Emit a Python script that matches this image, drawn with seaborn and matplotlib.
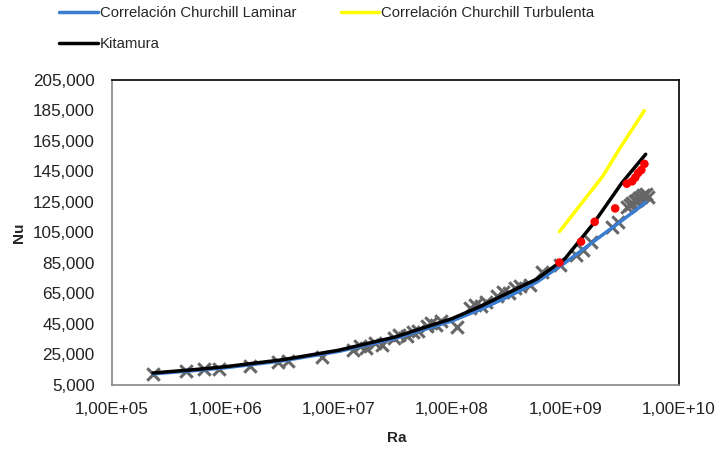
import matplotlib
matplotlib.use("Agg")
import matplotlib.pyplot as plt
import matplotlib.ticker as mticker
import numpy as np
import pandas as pd
import seaborn as sns

# experimental data (gray crosses)
ra_exp = [2.3e5, 4.5e5, 6.5e5, 8.8e5, 1.65e6, 2.9e6, 3.6e6, 7.1e6,
          1.35e7, 1.55e7, 1.75e7, 2.1e7, 2.4e7, 3.1e7, 3.4e7, 4.0e7, 4.5e7, 5.0e7,
          6.0e7, 6.6e7, 7.2e7, 8.0e7, 1.1e8, 1.45e8, 1.6e8, 1.8e8, 2.0e8, 2.5e8,
          2.8e8, 3.2e8, 3.6e8, 4.0e8, 4.9e8, 6.3e8, 9.0e8, 1.25e9, 1.45e9, 1.7e9,
          2.6e9, 2.9e9, 3.5e9, 3.7e9, 3.9e9, 4.1e9, 4.3e9, 4.5e9, 4.7e9, 4.9e9,
          5.2e9, 5.4e9]
nu_exp = [12.0, 14.0, 15.3, 15.5, 17.3, 19.8, 20.5, 23.3,
          28.0, 30.5, 29.0, 32.5, 31.5, 36.0, 37.5, 37.0, 39.5, 40.5,
          43.5, 45.5, 44.5, 47.0, 43.0, 55.5, 57.5, 56.5, 59.5, 63.5,
          66.0, 65.5, 68.5, 70.0, 70.5, 79.0, 84.0, 90.0, 93.5, 99.0,
          108.5, 112.0, 121.5, 123.0, 124.5, 125.5, 126.5, 127.5, 128.5, 129.5,
          130.5, 128.0]

# experimental data (red dots)
ra_red = [8.9e8, 1.38e9, 1.82e9, 2.76e9, 3.5e9, 3.9e9, 4.15e9, 4.4e9, 4.7e9, 5.0e9]
nu_red = [85.3, 99.0, 112.0, 120.8, 137.0, 138.6, 141.0, 144.0, 146.0, 150.0]

# correlations
ra_curve = [2.3e5, 5.0e5, 1.0e6, 3.16e6, 1.0e7, 3.16e7, 1.0e8, 1.78e8,
            3.16e8, 5.62e8, 1.0e9, 1.78e9, 3.16e9, 5.13e9]
nu_laminar = [12.3, 14.3, 16.3, 20.8, 27.0, 35.5, 47.0, 54.5,
              63.0, 72.5, 85.2, 99.1, 112.8, 124.7]
nu_kitamura = [12.9, 14.9, 17.0, 21.5, 27.8, 36.5, 48.5, 56.5,
               65.5, 74.5, 88.0, 111.0, 137.5, 156.3]
ra_turb = [8.9e8, 1.35e9, 2.14e9, 3.0e9, 5.0e9]
nu_turb = [105.6, 122.8, 141.8, 159.6, 185.0]

y_ticks = list(range(5, 206, 20))
x_ticks = [1e5, 1e6, 1e7, 1e8, 1e9, 1e10]

sns.set_style("white")
plt.rcParams['font.family'] = ['Liberation Sans', 'DejaVu Sans']

fig = plt.figure(figsize=(7.22, 4.5), dpi=100)
ax = fig.add_axes([112/722, 1-385/450, 566.5/722, 305/450])

sns.scatterplot(x=ra_exp, y=nu_exp, marker='x', s=80, color='#666666',
                linewidth=2.2, ax=ax, zorder=2, legend=False)
sns.lineplot(x=ra_curve, y=nu_laminar, color='#3a7dd0', lw=2.5, ax=ax,
             label='Correlación Churchill Laminar', zorder=3)
sns.lineplot(x=ra_turb, y=nu_turb, color='#ffff00', lw=2.5, ax=ax,
             label='Correlación Churchill Turbulenta', zorder=3)
sns.lineplot(x=ra_curve, y=nu_kitamura, color='black', lw=2.5, ax=ax,
             label='Kitamura', zorder=4)
sns.scatterplot(x=ra_red, y=nu_red, marker='o', s=38, color='#ff0000',
                edgecolor='none', ax=ax, zorder=5, legend=False)

ax.set_xscale('log')
ax.set_xlim(1e5, 1e10)
ax.set_ylim(5, 205)
ax.set_xticks(x_ticks)
ax.xaxis.set_minor_locator(mticker.NullLocator())
ax.xaxis.set_major_formatter(mticker.FuncFormatter(
    lambda v, p: ('%.2E' % v).replace('.', ',')))
ax.set_yticks(y_ticks)
ax.yaxis.set_major_formatter(mticker.FuncFormatter(
    lambda v, p: ('%.3f' % v).replace('.', ',')))

for s in ['left', 'bottom']:
    ax.spines[s].set_color('#868686')
    ax.spines[s].set_linewidth(1.2)
for s in ['top', 'right']:
    ax.spines[s].set_color('black')
    ax.spines[s].set_linewidth(1.2)
ax.tick_params(direction='out', length=4.5, width=1, color='#868686',
               labelsize=12.3, labelcolor='#222222', pad=8)

ax.set_xlabel('Ra', fontsize=11, fontweight='bold')
ax.set_ylabel('Nu', fontsize=11, fontweight='bold')
ax.xaxis.set_label_coords(0.503, -0.15)
ax.yaxis.set_label_coords(-0.152, 0.5)

handles, labels = ax.get_legend_handles_labels()
ax.get_legend().remove()
order = [0, 2, 1]
fig.legend([handles[i] for i in order], [labels[i] for i in order],
           loc='upper left', bbox_to_anchor=(58/722, 0.99), ncol=2,
           frameon=False, borderpad=0.1, borderaxespad=0,
           handlelength=2.6, handletextpad=0.1, columnspacing=3.0,
           labelspacing=1.15, fontsize=10.7)

fig.savefig('out.png', dpi=100)
